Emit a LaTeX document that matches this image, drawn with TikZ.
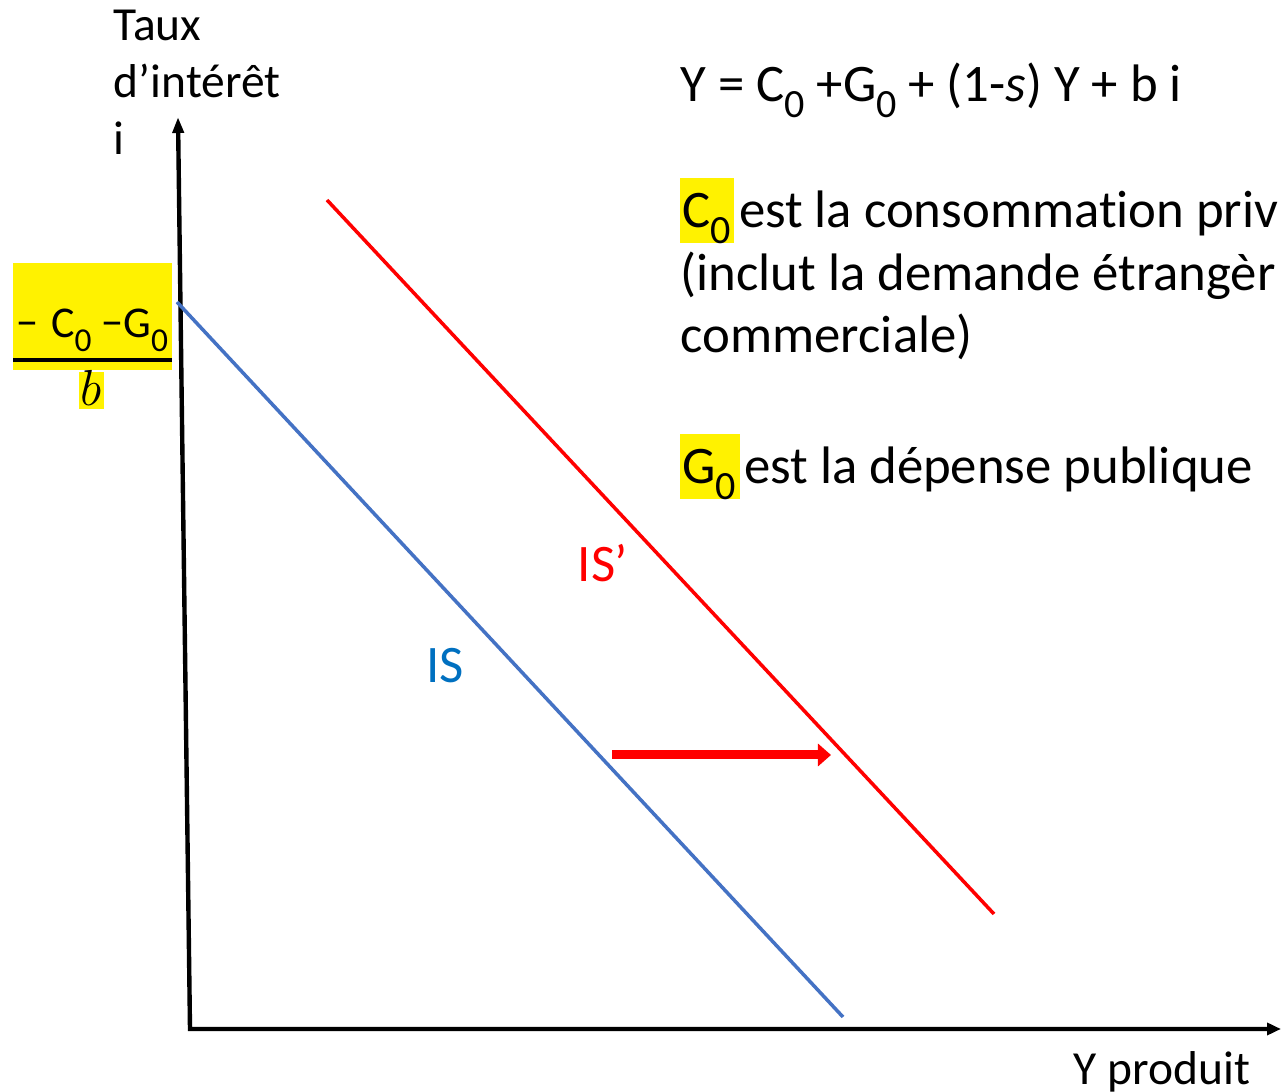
\documentclass[tikz,border=0pt]{standalone}
\usepackage{graphicx}
\usepackage{fontspec}
\setmainfont{Carlito}[Ligatures={NoCommon}]
\usetikzlibrary{positioning, arrows.meta}

\definecolor{bleuIS}{RGB}{68,114,196}
\definecolor{bleuTexte}{RGB}{0,112,192}
\newcommand{\indice}[1]{\raisebox{-0.3em}{\scalebox{0.76}{#1}}}

\begin{document}
\begin{tikzpicture}[x=0.01cm, y=-0.01cm]
  \tikzset{
    grand/.style={font=\fontsize{15pt}{18pt}\selectfont, inner sep=0pt, anchor=base west},
    petit/.style={font=\fontsize{13.5pt}{16pt}\selectfont, inner sep=0pt, anchor=base west},
    axe/.style={line width=1.25pt, {Triangle[length=0.16cm,width=0.11cm]}-{Triangle[length=0.14cm,width=0.12cm]}},
    courbe/.style={line width=1pt},
    surligne/.style={fill=yellow},
  }
  \useasboundingbox (0,0) rectangle (1281,1092);
  % axes
  \coordinate (O) at (190,1029);
  \coordinate (Ihaut) at (178,117);
  \coordinate (Ydroite) at (1281,1029);
  \draw[axe] (Ihaut) -- (O) -- (Ydroite);
  \node[petit] (taux) at (113,41) {Taux};
  \node[petit] (interet) at (113,98) {d’intérêt};
  \node[petit] (tauxi) at (113,155) {i};
  \node[petit] (produit) at (1073,1085) {Y produit};
  % courbes IS et IS'
  \coordinate (A) at (177,302);
  \coordinate (B) at (843,1017);
  \coordinate (C) at (327,200);
  \coordinate (D) at (994,914);
  \draw[courbe, bleuIS] (A) -- (B);
  \draw[courbe, red] (C) -- (D);
  \node[grand, text=bleuTexte] (is) at (426,683) {IS};
  \node[grand, text=red] (isp) at (577,582) {IS’};
  % deplacement
  \coordinate (E) at (612,755);
  \coordinate (F) at (831,755);
  \draw[red, line width=0.09cm, -{Triangle[length=0.13cm,width=0.22cm]}] (E) -- (F);
  % ordonnee a l'origine
  \fill[surligne] (13,263) rectangle (172,370);
  \fill[surligne] (79,372) rectangle (104,409);
  \draw[line width=1.2pt] (13,360) -- (172,360);
  \node[font=\fontsize{12.5pt}{15pt}\selectfont, inner sep=0pt, anchor=base] (num) at (92,338) {−\hspace{0.3em}C\indice{0} −G\indice{0}};
  \node[font=\fontsize{14.5pt}{17pt}\selectfont, inner sep=0pt, anchor=base] (den) at (91,406) {$b$};
  % texte
  \node[grand] (eq) at (680,102) {Y = C\indice{0} +G\indice{0} + (1-\textit{s}) Y + b i};
  \fill[surligne] (680,178) rectangle (734,243);
  \node[grand] (ligneC) at (682,228) {C\indice{0}\hspace{0.15em}est la consommation priv};
  \node[grand] (ligneD) at (680,291) {(inclut la demande étrangèr};
  \node[grand] (ligneE) at (680,353) {commerciale)};
  \fill[surligne] (680,434) rectangle (740,499);
  \node[grand] (ligneG) at (682,484) {G\indice{0}\hspace{0.15em}est la dépense publique};
\end{tikzpicture}
\end{document}
